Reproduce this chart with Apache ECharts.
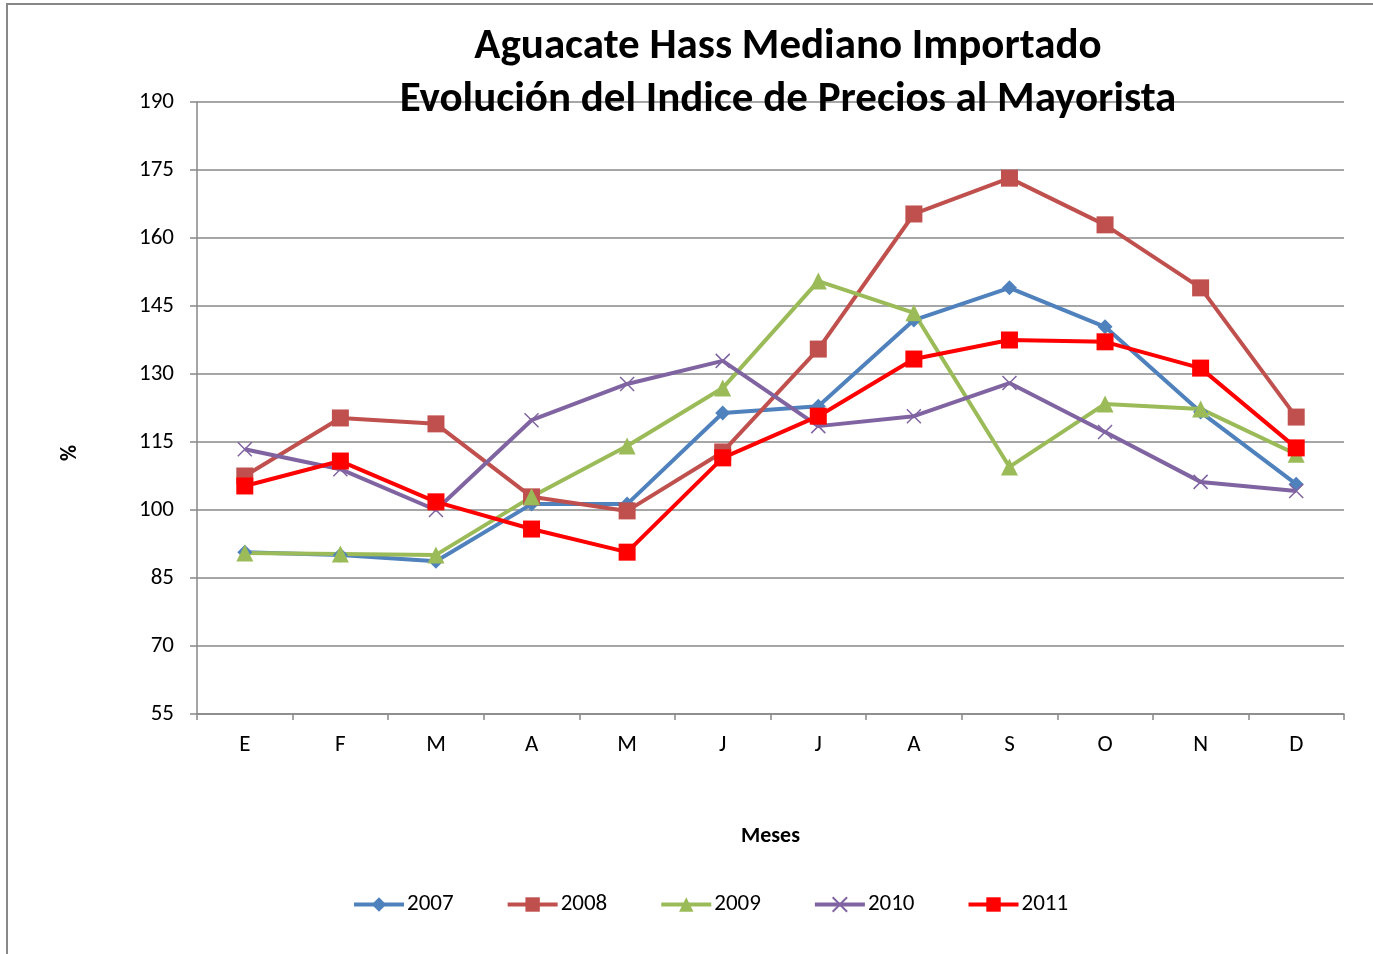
<!DOCTYPE html>
<html>
<head>
<meta charset="utf-8">
<script src="https://cdn.jsdelivr.net/npm/echarts@6/dist/echarts.min.js"></script>
<style>
  html, body { margin: 0; padding: 0; background: #fff; }
  #chart { width: 1373px; height: 954px; }
</style>
</head>
<body>
<div id="chart"></div>
<script>
// 月份（西班牙语首字母）
const months = ['E', 'F', 'M', 'A', 'M', 'J', 'J', 'A', 'S', 'O', 'N', 'D'];

// 各年份指数
const y2007 = [90.7, 90.1, 88.7, 101.3, 101.3, 121.4, 122.9, 141.9, 149.0, 140.4, 121.6, 105.7];
const y2008 = [107.5, 120.3, 119.0, 102.9, 99.8, 112.8, 135.5, 165.3, 173.2, 162.9, 149.0, 120.5];
const y2009 = [90.5, 90.3, 90.1, 102.9, 114.1, 126.9, 150.5, 143.5, 109.5, 123.4, 122.3, 112.3];
const y2010 = [113.4, 109.0, 100.0, 119.8, 127.8, 132.9, 118.5, 120.7, 128.0, 117.2, 106.2, 104.2];
const y2011 = [105.3, 110.8, 101.8, 95.8, 90.7, 111.5, 120.7, 133.3, 137.5, 137.1, 131.3, 113.7];

const chart = echarts.init(document.getElementById('chart'));

const font = 'Calibri, Carlito, Lato, "Open Sans", sans-serif';
const crossPath = 'path://M0,0L10,10M10,0L0,10';

function makeSeries(name, data, color, symbol, size) {
    return {
        name: name,
        type: 'line',
        data: data,
        symbol: symbol,
        symbolSize: size,
        lineStyle: { color: color, width: 4 },
        itemStyle: { color: color, borderColor: color, borderWidth: symbol === crossPath ? 1.5 : 0 },
        z: 3
    };
}

const option = {
    backgroundColor: '#fff',
    animation: false,
    textStyle: { fontFamily: font },
    title: {
        text: 'Aguacate Hass Mediano Importado\nEvolución del Indice de Precios al Mayorista',
        left: 783,
        textAlign: 'center',
        top: 16,
        textStyle: { fontSize: 43, fontWeight: 'bold', color: '#000', lineHeight: 53, fontFamily: font }
    },
    grid: { left: 197, right: 29, top: 102, bottom: 240 },
    legend: {
        bottom: 38,
        left: 352,
        padding: 0,
        itemGap: 52,
        itemWidth: 50,
        itemHeight: 18,
        lineStyle: { width: 4 },
        textStyle: { fontSize: 23, color: '#000', fontFamily: font, padding: [0, 0, 0, -2] },
        data: ['2007', '2008', '2009', '2010', '2011']
    },
    xAxis: {
        type: 'category',
        data: months,
        boundaryGap: true,
        name: 'Meses',
        nameLocation: 'middle',
        nameGap: 111,
        nameTextStyle: { fontSize: 22, fontWeight: 'bold', color: '#000' },
        axisLine: { lineStyle: { color: '#888', width: 1.5 } },
        axisTick: { show: true, length: 6, alignWithLabel: false, lineStyle: { color: '#888', width: 1.5 } },
        axisLabel: { fontSize: 23, color: '#000', margin: 20 }
    },
    yAxis: {
        type: 'value',
        min: 55,
        max: 190,
        interval: 15,
        axisLine: { show: true, lineStyle: { color: '#888', width: 1.5 } },
        axisTick: { show: true, length: 7, lineStyle: { color: '#888', width: 1.5 } },
        axisLabel: { fontSize: 23, color: '#000', margin: 23 },
        splitLine: { lineStyle: { color: '#888', width: 1.5 } }
    },
    graphic: [{
        type: 'rect',
        shape: { x: 7, y: 4, width: 1400, height: 1000 },
        style: { fill: 'none', stroke: '#888', lineWidth: 2 },
        silent: true
    }, {
        // 纵轴标题 "%"
        type: 'text',
        x: 70,
        y: 453,
        rotation: Math.PI / 2,
        style: {
            text: '%',
            fontSize: 22,
            fontWeight: 'bold',
            fontFamily: font,
            fill: '#000',
            align: 'center',
            verticalAlign: 'middle'
        },
        silent: true
    }],
    series: [
        makeSeries('2007', y2007, '#4F81BD', 'diamond', 15),
        makeSeries('2008', y2008, '#C0504D', 'rect', 17),
        makeSeries('2009', y2009, '#9BBB59', 'triangle', 17),
        makeSeries('2010', y2010, '#8064A2', crossPath, 14),
        makeSeries('2011', y2011, '#FF0000', 'rect', 17)
    ]
};

chart.setOption(option);
</script>
</body>
</html>
